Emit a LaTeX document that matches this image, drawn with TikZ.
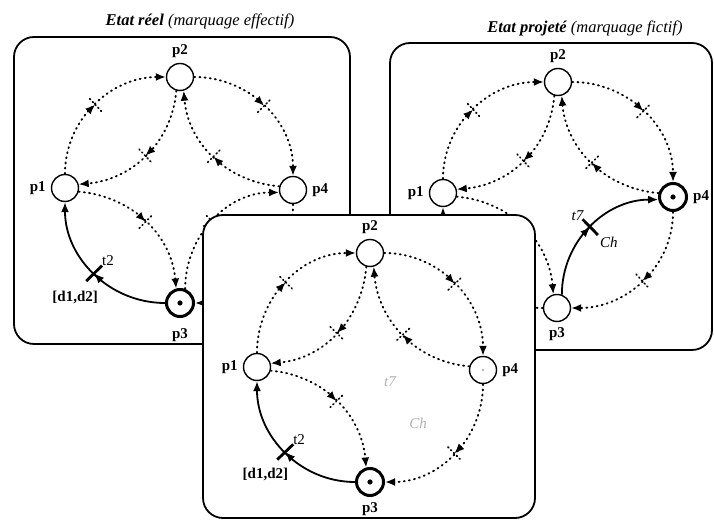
\documentclass[tikz,border=0pt]{standalone}
\usepackage{fontspec}
\setmainfont{Liberation Serif}
\usepackage{tikz}
\usetikzlibrary{arrows.meta, decorations.markings}

\tikzset{
  place/.style={circle, draw, line width=1.4pt, minimum size=27pt, inner sep=0pt, fill=white},
  tokenplace/.style={place, line width=3pt,
    path picture={\fill[black] (path picture bounding box.center) circle (2.6pt);}},
  plabel/.style={font=\fontsize{15}{17}\selectfont\bfseries, inner sep=1pt},
  tlabel/.style={font=\fontsize{15}{17}\selectfont, inner sep=1pt},
  panel/.style={draw, line width=1.8pt, rounded corners=20pt, fill=white},
  title/.style={font=\fontsize{16.5}{19}\selectfont\bfseries\itshape},
  tip/.style={-{Latex[length=10pt,width=8pt]}},
  dotarc/.style={line width=1.9pt, dash pattern=on 1pt off 4.2pt, line cap=round, tip,
    postaction={decorate}, decoration={markings, mark=at position 0.5 with {
      \arrow{Latex[length=10pt,width=8pt]}
      \draw[-, line width=1.7pt, dash pattern=on 1pt off 3pt, line cap=round] (0,-9pt) -- (0,9pt);}}},
  solidarc/.style={line width=1.8pt, tip,
    postaction={decorate}, decoration={markings, mark=at position 0.5 with {
      \arrow{Latex[length=10pt,width=8pt]}
      \draw[-, line width=2.8pt] (0,-11pt) -- (0,11pt);}}}
}

% dotted arcs shared by the three nets
\newcommand{\ringarcs}[1]{%
  \draw[dotarc] (#1p1.north) to[out=90,in=180] (#1p2.west);
  \draw[dotarc] (#1p2.-105) to[out=-95,in=5] (#1p1.15);
  \draw[dotarc] (#1p2.east) to[out=0,in=90] (#1p4.north);
  \draw[dotarc] (#1p4.165) to[out=175,in=-85] (#1p2.-75);
  \draw[dotarc] (#1p1.-15) to[out=-5,in=95] (#1p3.105);
  \draw[dotarc] (#1p4.south) to[out=-90,in=0] (#1p3.east);
}

\begin{document}
\begin{tikzpicture}[x=1pt, y=1pt, label distance=4pt]
  \useasboundingbox (0,0) rectangle (714,521);

  % etat reel
  \draw[panel] (14,177) rectangle (350,484);
  \node[title] (Ltitle) at (200,500) {Etat réel {\mdseries (marquage effectif)}};
  \node[place, label={[plabel]above:p2}] (Lp2) at (180,444) {};
  \node[place, label={[plabel]left:p1}] (Lp1) at (65,333) {};
  \node[place, label={[plabel]right:p4}] (Lp4) at (293,331) {};
  \node[tokenplace, label={[plabel, label distance=9pt]below:p3}] (Lp3) at (180,218) {};
  \ringarcs{L}
  \draw[solidarc] (Lp3.west) to[out=180,in=-90]
    node[tlabel, pos=0.5, above right=6pt] (Lt2) {t2}
    node[plabel, pos=0.5, below=16pt, xshift=-19pt] (Ld) {[d1,d2]} (Lp1.south);
  \draw[dotarc] (Lp3.70) to[out=90,in=180] (Lp4.190);

  % etat projete
  \draw[panel] (390,171) rectangle (712,478);
  \node[title] (Rtitle) at (585,493) {Etat projeté {\mdseries (marquage fictif)}};
  \node[place, label={[plabel]above:p2}] (Rp2) at (558,439) {};
  \node[place, label={[plabel]left:p1}] (Rp1) at (443,328) {};
  \node[tokenplace, label={[plabel]right:p4}] (Rp4) at (673,324) {};
  \node[place, label={[plabel]below:p3}] (Rp3) at (557,213) {};
  \ringarcs{R}
  \draw[dotarc] (Rp3.west) to[out=180,in=-90] (Rp1.south);
  \draw[solidarc] (Rp3.70) to[out=90,in=180]
    node[tlabel, pos=0.5, above left=5pt, font=\fontsize{15}{17}\selectfont\itshape] (Rt7) {t7}
    node[tlabel, pos=0.5, below right=8pt, font=\fontsize{15}{17}\selectfont\itshape] (Rch) {Ch} (Rp4.190);

  % net in front
  \draw[panel] (203,3) rectangle (535,306);
  \node[place, label={[plabel]above:p2}] (Fp2) at (370,268) {};
  \node[place, label={[plabel]left:p1}] (Fp1) at (257,154) {};
  \node[place, label={[plabel]right:p4}] (Fp4) at (483,151) {};
  \node[tokenplace, label={[plabel]below:p3}] (Fp3) at (370,39) {};
  \fill[gray!60] (Fp4.center) circle (1.4pt);
  \ringarcs{F}
  \draw[solidarc] (Fp3.west) to[out=180,in=-90]
    node[tlabel, pos=0.5, above right=6pt] (Ft2) {t2}
    node[plabel, pos=0.5, below=14pt, xshift=-20pt] (Fd) {[d1,d2]} (Fp1.south);
  \node[tlabel, gray!60, font=\fontsize{15}{17}\selectfont\itshape] (Ft7) at (390,139) {t7};
  \node[tlabel, gray!60, font=\fontsize{15}{17}\selectfont\itshape] (Fch) at (418,98) {Ch};
\end{tikzpicture}
\end{document}
